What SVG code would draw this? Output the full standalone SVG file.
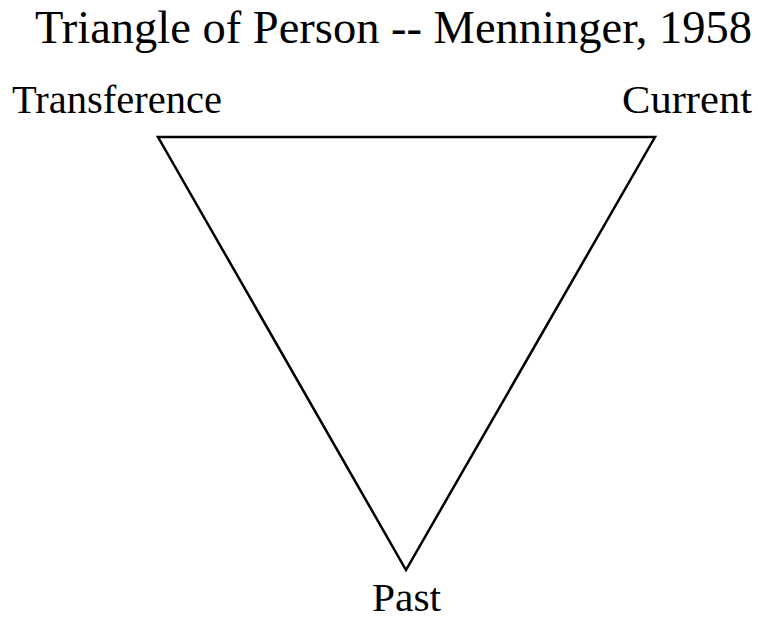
<svg xmlns="http://www.w3.org/2000/svg" width="758" height="621" viewBox="0 0 758 621">
<style>
text{font-family:"Liberation Serif",serif;fill:#000}
.t{font-size:46px}
.l{font-size:41px}
.edge{stroke:#000;stroke-width:2.5;fill:none;stroke-linejoin:miter}
</style>
<rect width="758" height="621" fill="#fff"/>
<text class="t" x="35" y="43" textLength="717" lengthAdjust="spacingAndGlyphs">Triangle of Person -- Menninger, 1958</text>
<g id="connectors">
<path class="edge" d="M158,137 L655,137 L406,570 Z"/>
</g>
<g id="transference"><text class="l" x="12" y="113" textLength="210" lengthAdjust="spacingAndGlyphs">Transference</text></g>
<g id="current"><text class="l" x="622" y="113" textLength="130" lengthAdjust="spacingAndGlyphs">Current</text></g>
<g id="past"><text class="l" x="372" y="611" font-size="38" textLength="69" lengthAdjust="spacingAndGlyphs">Past</text></g>
</svg>
